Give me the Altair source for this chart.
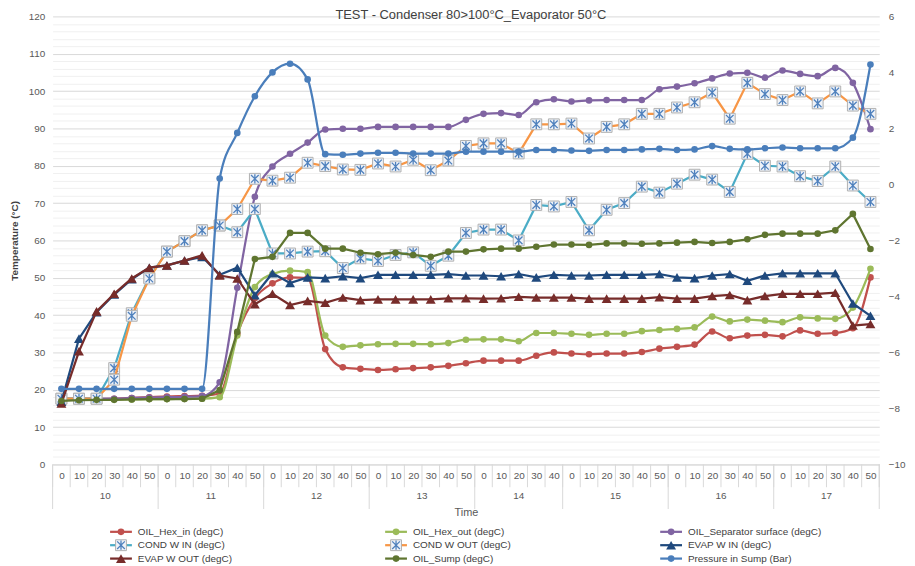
import altair as alt
import pandas as pd

# ---------------- data ----------------
title_text = "TEST - Condenser 80>100°C_Evaporator 50°C"
hour_labels = ["10", "11", "12", "13", "14", "15", "16", "17"]
hour_minutes = [
    ["0", "10", "20", "30", "40", "50"],
    ["0", "10", "20", "30", "40", "50"],
    ["0", "10", "20", "30", "40", "50"],
    ["0", "10", "20", "30", "40", "50"],
    ["0", "10", "20", "30", "40"],
    ["0", "10", "20", "30", "40", "50"],
    ["0", "10", "20", "30", "40", "50"],
    ["0", "10", "20", "30", "40", "50"],
]

oil_hex_in = [17.5, 17.5, 17.5, 17.6, 17.8, 18.0, 18.2, 18.3, 18.4, 19.0,
              35.0, 44.5, 48.5, 50.1, 49.9, 30.9, 26.0, 25.6, 25.3, 25.5,
              25.8, 26.0, 26.4, 27.1, 27.8, 27.8, 27.8, 29.1, 30.0, 29.7,
              29.5, 29.7, 29.7, 30.1, 31.0, 31.5, 32.1, 35.6, 33.8, 34.5,
              34.7, 34.3, 35.9, 35.0, 35.2, 36.5, 50.1]
oil_hex_out = [17.3, 17.3, 17.3, 17.4, 17.4, 17.5, 17.5, 17.6, 17.6, 18.0,
               34.5, 47.5, 51.0, 51.9, 51.5, 34.5, 31.5, 31.9, 32.2, 32.3,
               32.3, 32.2, 32.5, 33.4, 33.5, 33.5, 33.0, 35.2, 35.2, 35.0,
               34.7, 35.0, 35.0, 35.7, 36.0, 36.3, 36.7, 39.6, 38.3, 38.8,
               38.5, 38.1, 39.4, 39.1, 39.0, 42.0, 52.4]
oil_separator = [17.6, 17.6, 17.6, 17.6, 17.8, 17.9, 18.0, 18.1, 18.3, 22.0,
                 47.3, 71.7, 79.8, 83.2, 86.2, 89.7, 89.9, 89.9, 90.4, 90.4,
                 90.4, 90.4, 90.4, 92.3, 93.9, 94.1, 93.6, 97.0, 97.8, 97.2,
                 97.5, 97.6, 97.6, 97.6, 100.5, 101.2, 102.1, 103.4, 104.7, 104.9,
                 103.6, 105.5, 104.6, 104.0, 106.2, 102.2, 89.8]
cond_w_in = [17.6, 17.6, 17.6, 25.8, 40.5, 50.0, 57.0, 59.8, 62.7, 64.0,
             62.2, 68.4, 56.5, 56.5, 57.0, 57.1, 52.6, 55.2, 54.5, 56.1,
             56.8, 53.2, 55.9, 62.0, 62.9, 62.9, 60.0, 69.5, 69.1, 70.3,
             62.7, 68.2, 70.0, 74.4, 72.8, 75.2, 77.6, 76.3, 73.0, 83.2,
             80.0, 79.8, 77.2, 75.9, 79.8, 74.7, 70.3]
cond_w_out = [17.6, 17.6, 17.6, 22.7, 39.8, 49.8, 57.0, 59.8, 62.7, 64.0,
              68.4, 76.5, 76.0, 76.8, 80.8, 79.9, 79.0, 78.9, 80.6, 79.8,
              81.6, 78.8, 81.4, 85.3, 86.0, 86.0, 83.3, 91.1, 91.1, 91.3,
              87.3, 90.4, 91.1, 93.9, 93.9, 95.6, 97.0, 99.6, 92.6, 102.2,
              99.2, 97.6, 99.9, 96.7, 99.9, 96.1, 93.9]
evap_w_in = [16.8, 33.7, 40.8, 45.5, 49.6, 52.7, 53.3, 54.6, 55.6, 50.8,
             52.7, 45.3, 51.2, 48.6, 50.1, 49.9, 50.4, 49.9, 50.8, 50.8,
             50.8, 50.8, 51.0, 50.6, 50.6, 50.4, 51.0, 50.1, 50.8, 50.6,
             50.6, 50.8, 50.8, 50.8, 51.0, 50.1, 49.9, 50.6, 51.0, 49.2,
             50.6, 51.2, 51.2, 51.2, 51.2, 43.1, 39.8]
evap_w_out = [16.3, 30.3, 41.0, 45.7, 49.8, 52.7, 53.3, 54.6, 56.0, 50.6,
              49.8, 42.9, 45.7, 42.7, 43.8, 43.3, 44.7, 44.0, 44.2, 44.2,
              44.2, 44.2, 44.5, 44.5, 44.4, 44.5, 44.9, 44.7, 44.7, 44.7,
              44.4, 44.4, 44.4, 44.4, 44.8, 44.4, 44.4, 45.1, 45.4, 44.0,
              45.1, 45.7, 45.7, 45.7, 46.0, 37.2, 37.6]
oil_sump = [17.0, 17.2, 17.3, 17.3, 17.4, 17.5, 17.5, 17.5, 17.6, 19.9,
            35.5, 55.0, 55.6, 62.0, 62.0, 57.8, 57.8, 56.7, 56.3, 56.7,
            56.1, 55.6, 57.0, 57.0, 57.6, 57.8, 57.8, 58.3, 58.9, 58.9,
            58.8, 59.2, 59.2, 59.1, 59.2, 59.4, 59.6, 59.3, 59.6, 60.3,
            61.5, 61.8, 61.8, 61.8, 62.7, 67.1, 57.7]
pressure_bar = [-7.30, -7.30, -7.30, -7.30, -7.30, -7.30, -7.30, -7.30, -7.30, 0.21,
                1.84, 3.15, 4.00, 4.31, 3.75, 1.08, 1.06, 1.10, 1.13, 1.13,
                1.10, 1.10, 1.10, 1.17, 1.17, 1.17, 1.17, 1.23, 1.23, 1.21,
                1.20, 1.23, 1.23, 1.25, 1.27, 1.23, 1.25, 1.37, 1.27, 1.25,
                1.29, 1.32, 1.29, 1.29, 1.29, 1.67, 4.28]

# name, values, colour, marker, smoothed
series = [
    ("OIL_Hex_in (degC)", oil_hex_in, "#c0504d", "circle", True),
    ("OIL_Hex_out (degC)", oil_hex_out, "#9bbb59", "circle", True),
    ("OIL_Separator surface (degC)", oil_separator, "#8064a2", "circle", True),
    ("COND W IN (degC)", cond_w_in, "#4bacc6", "cond", False),
    ("COND W OUT (degC)", cond_w_out, "#f79646", "cond", False),
    ("EVAP W IN (degC)", evap_w_in, "#1f497d", "tri", False),
    ("EVAP W OUT (degC)", evap_w_out, "#772c2a", "tri", False),
    ("OIL_Sump (degC)", oil_sump, "#5f7530", "circle", False),
    ("Pressure in Sump (Bar)", pressure_bar, "#4a7ebb", "circle", True),
]

# ---------------- layout ----------------
W, H = 834, 452
FONT = "Liberation Sans"
GRAY = "#595959"
minute_labels = [m for hm in hour_minutes for m in hm]
N = len(minute_labels)

rows = []
for name, vals, _, _, _ in series:
    for i, v in enumerate(vals):
        rows.append({"series": name, "x": i + 0.5, "value": v})
df = pd.DataFrame(rows)

names = [s[0] for s in series]
color_scale = alt.Scale(domain=names, range=[s[2] for s in series])
color_enc = alt.Color("series:N", scale=color_scale, legend=None)

xscale = alt.Scale(domain=[0, N], nice=False, zero=False)
label_array = "[" + ",".join("'%s'" % m for m in minute_labels) + "]"
x_axis = alt.Axis(
    values=[i + 0.5 for i in range(N)],
    labelExpr=label_array + "[floor(datum.value)]",
    ticks=False, grid=False, domain=True, domainColor="#d9d9d9",
    labelAngle=0, labelFontSize=10, labelColor=GRAY, labelPadding=6,
    labelOverlap=False, labelFlush=False,
    title="Time", titleFontSize=11, titleFontWeight="normal", titleColor=GRAY,
    titlePadding=27,
)
x_enc = alt.X("x:Q", scale=xscale, axis=x_axis)

left_axis = alt.Axis(
    values=list(range(0, 121, 2)),
    labelExpr="datum.value % 10 === 0 ? datum.label : ''",
    grid=True,
    gridColor={"condition": {"test": "datum.value % 10 === 0", "value": "#d9d9d9"}, "value": "#f0f0f0"},
    gridWidth=1, ticks=False, domain=False,
    labelFontSize=10, labelColor=GRAY, labelPadding=8,
    labelOverlap=False, labelFlush=False,
    title="Temperature (°C)", titleFontSize=10, titleFontWeight="bold",
    titleColor="#404040", titlePadding=9,
)
y_left = alt.Y("value:Q", scale=alt.Scale(domain=[0, 120], nice=False, zero=False), axis=left_axis)

right_axis = alt.Axis(
    orient="right", values=list(range(-10, 7, 2)), grid=False, ticks=False,
    domain=False, labelFontSize=10, labelColor=GRAY, labelPadding=9,
    labelOverlap=False, labelFlush=False, title=None,
)
y_right = alt.Y("value:Q", scale=alt.Scale(domain=[-10, 6], nice=False, zero=False), axis=right_axis)

ASTER = "M-1,-1L1,1M-1,1L1,-1M0,-1.2L0,1.2"


def marker_layers(base, marker, xoff=0):
    if marker == "circle":
        return [base.mark_point(shape="circle", filled=True, size=45, opacity=1, xOffset=xoff)]
    if marker == "tri":
        return [base.mark_point(shape="triangle-up", filled=True, size=100, opacity=1, xOffset=xoff)]
    return [
        base.mark_point(shape="square", filled=True, size=120, opacity=1, xOffset=xoff,
                        fill="#eef2f8", stroke="#b0b0b0", strokeWidth=1),
        base.mark_point(shape=ASTER, filled=False, size=60, opacity=1, xOffset=xoff,
                        stroke="#4f81bd", strokeWidth=1.3),
    ]


def series_group(name, marker, smooth, x, y):
    base = alt.Chart(df).transform_filter(alt.datum.series == name).encode(
        x=x, y=y, color=color_enc)
    line = base.mark_line(strokeWidth=2.25,
                          interpolate="monotone" if smooth else "linear")
    return [line] + marker_layers(base, marker)


left_layers = []
for name, _, _, marker, smooth in series[:-1]:
    left_layers += series_group(name, marker, smooth, x_enc, y_left)
left_group = alt.layer(*left_layers)

p = series[-1]
right_group = alt.layer(*series_group(
    p[0], p[3], p[4], alt.X("x:Q", scale=xscale, axis=None), y_right))

# ----- two-level category axis decoration and title -----
bounds, centers = [0], []
start = 0
for hm in hour_minutes:
    centers.append(start + len(hm) / 2)
    start += len(hm)
    bounds.append(start)
sep_minor = pd.DataFrame({"pos": list(range(N + 1))})
sep_major = pd.DataFrame({"pos": bounds})
hour_df = pd.DataFrame({"label": hour_labels, "center": centers})

xdeco = alt.Scale(domain=[0, N], nice=False, zero=False)
minor_rules = alt.Chart(sep_minor).mark_rule(color="#d9d9d9", strokeWidth=1).encode(
    x=alt.X("pos:Q", scale=xdeco, axis=None), y=alt.value(H), y2=alt.value(H + 23))
major_rules = alt.Chart(sep_major).mark_rule(color="#d9d9d9", strokeWidth=1).encode(
    x=alt.X("pos:Q", scale=xdeco, axis=None), y=alt.value(H), y2=alt.value(H + 45))
hour_text = alt.Chart(hour_df).mark_text(fontSize=10, color=GRAY, baseline="middle").encode(
    x=alt.X("center:Q", scale=xdeco, axis=None), y=alt.value(H + 32), text="label:N")
title_mark = alt.Chart(pd.DataFrame({"t": [title_text]})).mark_text(
    fontSize=13, color="#404040", baseline="alphabetic", align="center").encode(
    x=alt.value(W / 2 + 5), y=alt.value(3), text="t:N")
deco = alt.layer(minor_rules, major_rules, hour_text, title_mark)

# ----- legend (3 columns) -----
leg = pd.DataFrame({
    "series": names,
    "col": [k % 3 for k in range(len(names))],
    "row": [k // 3 for k in range(len(names))],
})
marker_of = {s[0]: s[3] for s in series}
lx = alt.Scale(domain=[0, 2], range=[58, 613])
ly = alt.Scale(domain=[0, 2], range=[H + 68, H + 95])
lxe = alt.X("col:Q", scale=lx, axis=None)
lye = alt.Y("row:Q", scale=ly, axis=None)
leg_base = alt.Chart(leg).encode(x=lxe, y=lye, color=color_enc)
leg_layers = [leg_base.mark_rule(strokeWidth=2.25, x2Offset=22).encode(x2="col:Q")]
for mk in ["circle", "tri", "cond"]:
    members = [n for n in names if marker_of[n] == mk]
    b = alt.Chart(leg).transform_filter(
        alt.FieldOneOfPredicate(field="series", oneOf=members)
    ).encode(x=lxe, y=lye, color=color_enc)
    leg_layers += marker_layers(b, mk, xoff=11)
leg_text = alt.Chart(leg).mark_text(
    align="left", baseline="middle", dx=28, fontSize=10, color="#404040").encode(
    x=lxe, y=lye, text="series:N")
legend = alt.layer(*leg_layers, leg_text)

chart = alt.layer(left_group, right_group, deco, legend).resolve_scale(
    x="independent", y="independent"
).properties(
    width=W, height=H,
    padding={"left": 45, "right": 28, "top": 6, "bottom": 100},
    autosize=alt.AutoSizeParams(type="none"),
).configure_view(stroke=None).configure_axis(
    labelFont=FONT, titleFont=FONT
).configure_text(font=FONT)

chart.save("out.html", embed_options={"renderer": "svg", "actions": False})
